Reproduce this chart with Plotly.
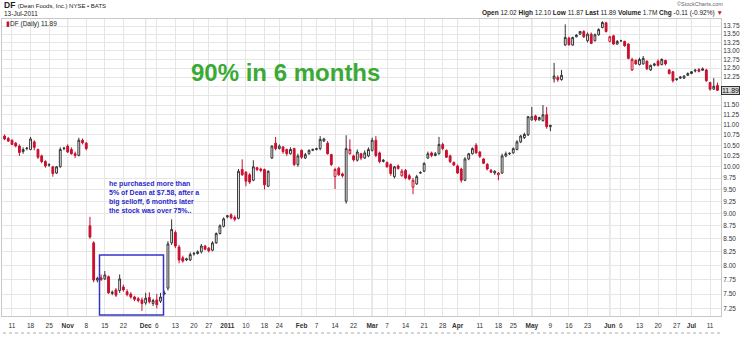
import numpy as np
import pandas as pd
import plotly.graph_objects as go

# ---------------- data ----------------
holidays = ["2010-11-25", "2010-12-24", "2011-01-17", "2011-02-21",
            "2011-04-22", "2011-05-30", "2011-07-04"]
dates = [d.strftime("%Y-%m-%d") for d in pd.bdate_range("2010-10-07", "2011-07-13")
         if d.strftime("%Y-%m-%d") not in holidays]

opens = [
    # Oct 7 - Nov 8
    10.72, 10.66, 10.62, 10.55, 10.48, 10.35, 10.42, 10.40, 10.58, 10.40, 10.25, 10.12,
    10.04, 10.00, 9.86, 10.00, 10.42, 10.48, 10.40, 10.30, 10.26, 10.62, 10.55,
    # Nov 9 - Jan 6
    8.75, 8.42, 7.74, 7.78, 7.76, 7.80, 7.51, 7.57, 7.56, 7.62, 7.54, 7.50, 7.45, 7.42,
    7.40, 7.35, 7.44, 7.34, 7.40, 7.38, 7.50, 7.60, 8.42, 8.62, 8.34, 8.14, 8.10, 8.10,
    8.21, 8.22, 8.25, 8.36, 8.32, 8.28, 8.42, 8.60, 8.74, 8.93, 8.97, 8.92, 8.90,
    # Jan 7 - Feb 17
    9.94, 9.88, 9.82, 9.70, 9.98, 9.95, 9.94, 9.57, 10.20, 10.55, 10.42, 10.46, 10.40,
    10.30, 10.42, 10.05, 10.38, 10.20, 10.30, 10.38, 10.40, 10.42, 10.60, 10.55, 10.28,
    9.78, 9.97, 9.84, 9.25,
    # Feb 18 - Apr 1
    10.30, 10.25, 10.15, 10.30, 10.20, 10.25, 10.38, 10.62, 10.32, 10.12, 10.10, 10.05,
    9.78, 10.02, 9.80, 9.92, 9.80, 9.55, 9.62, 9.86, 9.90, 10.20, 10.32, 10.26, 10.30,
    10.52, 10.38, 10.25, 10.10, 10.02, 9.95,
    # Apr 4 - May 9
    9.70, 10.18, 10.30, 10.50, 10.34, 10.18, 10.06, 9.92, 9.86, 9.82, 9.86, 10.25, 10.30,
    10.32, 10.40, 10.58, 10.68, 10.75, 11.12, 11.22, 11.12, 11.10, 11.25, 10.95,
    # May 10 - May 12
    12.20, 12.24, 12.18,
    # May 13 - Jun 23
    13.17, 13.38, 13.17, 13.42, 13.50, 13.58, 13.30, 13.50, 13.30, 13.48, 13.70, 13.85,
    13.28, 13.45, 13.20, 13.30, 13.28, 13.20, 12.45, 12.72, 12.60, 12.62, 12.70, 12.45,
    12.58, 12.70, 12.60, 12.72, 12.45,
    # Jun 24 - Jul 13
    12.40, 12.18, 12.22, 12.22, 12.30, 12.35, 12.42, 12.46, 12.44, 12.45, 12.10, 11.92, 12.02,
]
highs = [
    10.76, 10.70, 10.64, 10.58, 10.52, 10.45, 10.46, 10.70, 10.62, 10.42, 10.28, 10.15,
    10.08, 10.02, 10.02, 10.45, 10.46, 10.52, 10.45, 10.35, 10.68, 10.66, 10.58,
    8.93, 8.45, 7.80, 7.84, 7.90, 7.82, 7.56, 7.60, 7.84, 7.66, 7.58, 7.53, 7.47, 7.45,
    7.44, 7.52, 7.53, 7.42, 7.50, 7.52, 7.56, 8.45, 8.88, 8.66, 8.38, 8.18, 8.14, 8.24,
    8.25, 8.28, 8.40, 8.38, 8.34, 8.45, 8.62, 8.78, 8.92, 8.97, 9.00, 8.96, 9.95,
    10.17, 9.90, 9.86, 10.15, 10.00, 9.98, 9.96, 9.92, 10.50, 10.70, 10.52, 10.48, 10.42,
    10.45, 10.44, 10.30, 10.40, 10.32, 10.40, 10.42, 10.44, 10.72, 10.68, 10.60, 10.30,
    9.98, 10.00, 9.87, 10.74,
    10.64, 10.28, 10.40, 10.32, 10.38, 10.45, 10.68, 10.72, 10.35, 10.18, 10.12, 10.08,
    10.02, 10.05, 9.95, 9.95, 9.84, 9.75, 9.82, 9.90, 10.10, 10.35, 10.35, 10.34, 10.70,
    10.56, 10.40, 10.28, 10.12, 10.05, 9.98,
    10.22, 10.32, 10.45, 10.55, 10.36, 10.20, 10.08, 9.95, 9.92, 9.88, 10.30, 10.35, 10.33,
    10.45, 10.62, 10.75, 10.80, 11.22, 11.45, 11.25, 11.20, 11.50, 11.45, 11.00,
    12.65, 12.30, 12.45,
    13.80, 13.42, 13.42, 13.50, 13.60, 13.62, 13.55, 13.55, 13.52, 13.68, 13.90, 13.88,
    13.45, 13.48, 13.32, 13.33, 13.30, 13.22, 12.80, 12.75, 12.80, 12.85, 12.72, 12.60,
    12.65, 12.75, 12.78, 12.74, 12.48,
    12.42, 12.22, 12.28, 12.30, 12.38, 12.42, 12.48, 12.50, 12.52, 12.48, 12.12, 12.22, 12.10,
]
lows = [
    10.62, 10.58, 10.50, 10.45, 10.25, 10.30, 10.38, 10.38, 10.38, 10.18, 10.08, 9.98,
    10.00, 9.78, 9.84, 9.98, 10.38, 10.32, 10.28, 10.20, 10.24, 10.52, 10.38,
    8.50, 7.70, 7.70, 7.72, 7.74, 7.50, 7.48, 7.45, 7.52, 7.54, 7.46, 7.42, 7.38, 7.36,
    7.22, 7.32, 7.34, 7.30, 7.26, 7.35, 7.48, 7.56, 8.38, 8.32, 8.04, 8.05, 8.08, 8.08,
    8.18, 8.20, 8.22, 8.28, 8.24, 8.26, 8.40, 8.58, 8.72, 8.90, 8.88, 8.84, 8.88,
    9.80, 9.57, 9.62, 9.68, 9.90, 9.88, 9.50, 9.55, 10.18, 10.38, 10.40, 10.30, 10.25,
    10.28, 10.02, 10.00, 10.18, 10.18, 10.28, 10.36, 10.38, 10.38, 10.58, 10.28, 10.02,
    9.51, 9.80, 9.76, 9.20,
    10.28, 10.12, 10.12, 10.15, 10.18, 10.22, 10.35, 10.22, 10.08, 10.10, 9.98, 9.80,
    9.74, 9.94, 9.78, 9.72, 9.70, 9.40, 9.60, 9.84, 9.88, 10.18, 10.22, 10.24, 10.28,
    10.38, 10.20, 10.08, 10.02, 9.84, 9.65,
    9.68, 10.15, 10.28, 10.30, 10.20, 10.06, 9.92, 9.86, 9.82, 9.70, 9.84, 10.22, 10.27,
    10.30, 10.38, 10.55, 10.65, 10.72, 11.10, 11.08, 11.10, 11.08, 10.90, 10.84,
    12.10, 12.12, 12.15,
    13.15, 13.15, 13.15, 13.40, 13.48, 13.38, 13.25, 13.20, 13.28, 13.45, 13.68, 13.55,
    13.25, 13.18, 13.18, 13.27, 13.12, 12.75, 12.42, 12.60, 12.58, 12.60, 12.45, 12.42,
    12.55, 12.55, 12.58, 12.58, 12.32,
    12.10, 12.15, 12.20, 12.20, 12.28, 12.33, 12.38, 12.38, 12.42, 12.12, 11.88, 11.90, 11.87,
]
closes = [
    10.65, 10.60, 10.52, 10.48, 10.33, 10.40, 10.43, 10.65, 10.45, 10.22, 10.12, 10.02,
    10.05, 9.85, 10.00, 10.40, 10.43, 10.34, 10.30, 10.26, 10.62, 10.56, 10.42,
    8.53, 7.74, 7.77, 7.75, 7.83, 7.52, 7.53, 7.48, 7.76, 7.57, 7.49, 7.45, 7.41, 7.39,
    7.34, 7.43, 7.37, 7.39, 7.32, 7.45, 7.52, 8.40, 8.68, 8.36, 8.10, 8.08, 8.12, 8.20,
    8.22, 8.25, 8.36, 8.30, 8.27, 8.42, 8.60, 8.75, 8.89, 8.95, 8.91, 8.88, 9.90,
    9.82, 9.68, 9.66, 10.00, 9.94, 9.92, 9.60, 9.90, 10.48, 10.42, 10.48, 10.35, 10.30,
    10.40, 10.05, 10.25, 10.22, 10.28, 10.38, 10.40, 10.42, 10.64, 10.65, 10.30, 10.05,
    9.94, 9.82, 9.80, 10.42,
    10.40, 10.16, 10.34, 10.20, 10.32, 10.40, 10.62, 10.26, 10.12, 10.15, 10.00, 9.85,
    10.00, 9.96, 9.90, 9.75, 9.73, 9.70, 9.78, 9.87, 10.08, 10.30, 10.26, 10.30, 10.52,
    10.42, 10.22, 10.12, 10.04, 9.86, 9.70,
    10.18, 10.30, 10.42, 10.32, 10.24, 10.08, 9.95, 9.88, 9.90, 9.86, 10.25, 10.30, 10.31,
    10.42, 10.58, 10.72, 10.76, 11.20, 11.20, 11.12, 11.18, 11.25, 10.95, 10.98,
    12.28, 12.18, 12.30,
    13.40, 13.18, 13.40, 13.47, 13.58, 13.42, 13.50, 13.22, 13.48, 13.64, 13.86, 13.58,
    13.42, 13.20, 13.28, 13.30, 13.15, 12.78, 12.75, 12.62, 12.75, 12.78, 12.48, 12.58,
    12.62, 12.58, 12.75, 12.62, 12.35,
    12.15, 12.20, 12.25, 12.28, 12.35, 12.40, 12.44, 12.41, 12.48, 12.15, 11.92, 12.00, 11.89,
]

tick_dates = ["2010-10-11", "2010-10-18", "2010-10-25", "2010-11-01", "2010-11-08",
              "2010-11-15", "2010-11-22", "2010-12-01", "2010-12-06", "2010-12-13",
              "2010-12-20", "2010-12-27", "2011-01-03", "2011-01-10", "2011-01-18",
              "2011-01-24", "2011-02-01", "2011-02-07", "2011-02-14", "2011-02-22",
              "2011-03-01", "2011-03-07", "2011-03-14", "2011-03-21", "2011-03-28",
              "2011-04-01", "2011-04-11", "2011-04-18", "2011-04-25", "2011-05-02",
              "2011-05-09", "2011-05-16", "2011-05-23", "2011-06-01", "2011-06-06",
              "2011-06-13", "2011-06-20", "2011-06-27", "2011-07-01", "2011-07-11"]
tick_labels = ["11", "18", "25", "<b>Nov</b>", "8", "15", "22", "<b>Dec</b>", "6", "13",
               "20", "27", "<b>2011</b>", "10", "18", "24", "<b>Feb</b>", "7", "14", "22",
               "<b>Mar</b>", "7", "14", "21", "28", "<b>Apr</b>", "11", "18", "25", "<b>May</b>",
               "9", "16", "23", "<b>Jun</b>", "6", "13", "20", "27", "<b>Jul</b>", "11"]
price_ticks = [7.25, 7.50, 7.75, 8.00, 8.25, 8.50, 8.75, 9.00, 9.25, 9.50, 9.75, 10.00,
               10.25, 10.50, 10.75, 11.00, 11.25, 11.50, 11.75, 12.00, 12.25, 12.50,
               12.75, 13.00, 13.25, 13.50, 13.75]

assert len(dates) == len(opens) == len(highs) == len(lows) == len(closes)

# ---------------- styling ----------------
W, H = 750, 355
L, R, T, B = 2, 29, 19, 39
PW, PH = W - L - R, H - T - B
FONT = "Liberation Sans, Arial, sans-serif"
RED = "#c8102e"
BLK = "#333333"


def px(xp):
    return (xp - L) / PW


def py(yp):
    return (H - B - yp) / PH


# StockCharts colouring: red if close below previous close, filled if close below open
prev = [opens[0]] + closes[:-1]
up_idx = [i for i in range(len(dates)) if closes[i] >= prev[i]]
dn_idx = [i for i in range(len(dates)) if closes[i] < prev[i]]


def candle(idx, color):
    return go.Candlestick(
        x=[dates[i] for i in idx],
        open=[opens[i] for i in idx], high=[highs[i] for i in idx],
        low=[lows[i] for i in idx], close=[closes[i] for i in idx],
        increasing=dict(line=dict(color=color, width=1), fillcolor="white"),
        decreasing=dict(line=dict(color=color, width=1), fillcolor=color),
        whiskerwidth=0, hoverinfo="skip", showlegend=False)


fig = go.Figure([candle(up_idx, BLK), candle(dn_idx, RED)])

month_ticks = [d for d, t in zip(tick_dates, tick_labels) if t.startswith("<b>")]
shapes = []
for d in month_ticks:
    k = dates.index(d)
    shapes.append(dict(type="line", xref="x", yref="paper", x0=k, x1=k, y0=0, y1=1,
                       line=dict(color="#c4c4c4", width=1), layer="below"))
# highlight box around the accumulation zone
shapes.append(dict(type="rect", xref="paper", yref="paper",
                   x0=px(99.5), x1=px(163.5), y0=py(315), y1=py(255),
                   line=dict(color="#3535c8", width=1.5), fillcolor="rgba(0,0,0,0)"))
# dotted separator under the date axis
shapes.append(dict(type="line", xref="paper", yref="paper", x0=px(3), x1=px(722),
                   y0=py(333), y1=py(333), line=dict(color="#aaaaaa", width=1, dash="dot")))

last, prev_close = closes[-1], closes[-2]
chg = last - prev_close
stats = ("<b>Open</b> %.2f <b>High</b> %.2f <b>Low</b> %.2f <b>Last</b> %.2f "
         "<b>Volume</b> 1.7M <b>Chg</b> %.2f (%.2f%%) <span style='color:%s'>▼</span>"
         % (opens[-1], highs[-1], lows[-1], last, chg, chg / prev_close * 100, RED))

# the last-price tag covers the neighbouring axis labels, as in the original
hidden = [v for v in price_ticks if abs(np.log10(v) - np.log10(last)) < 0.006]
ytext = ["" if v in hidden else "%.2f" % v for v in price_ticks]

annotations = [
    dict(x=px(2), y=py(5), xref="paper", yref="paper", xanchor="left", yanchor="middle",
         text="<b>DF</b> <span style='font-size:6px'>(Dean Foods, Inc.) NYSE • BATS</span>",
         showarrow=False, font=dict(family=FONT, size=8.5, color="#222")),
    dict(x=px(2), y=py(13), xref="paper", yref="paper", xanchor="left", yanchor="middle",
         text="13-Jul-2011", showarrow=False, font=dict(family=FONT, size=6.5, color="#222")),
    dict(x=px(4), y=py(24), xref="paper", yref="paper", xanchor="left", yanchor="middle",
         text="<span style='color:%s'>▮</span>DF (Daily) %.2f" % (RED, last), showarrow=False,
         font=dict(family=FONT, size=6.5, color="#222")),
    dict(x=px(725), y=py(4), xref="paper", yref="paper", xanchor="right", yanchor="middle",
         text="©StockCharts.com", showarrow=False, font=dict(family=FONT, size=5.5, color="#666")),
    dict(x=px(725), y=py(13), xref="paper", yref="paper", xanchor="right", yanchor="middle",
         text=stats, showarrow=False, font=dict(family=FONT, size=6.5, color="#222")),
    dict(x=px(285), y=py(72), xref="paper", yref="paper", xanchor="center", yanchor="middle",
         text="<b>90% in 6 months</b>", showarrow=False,
         font=dict(family=FONT, size=24, color="#3aaa35")),
    dict(x=px(107), y=py(197), xref="paper", yref="paper", xanchor="left", yanchor="middle",
         align="left",
         text=("<b>he purchased more than<br>5% of Dean at $7.58, after a<br>"
               "big selloff, 6 months later<br>the stock was over 75%..</b>"),
         showarrow=False, font=dict(family=FONT, size=7, color="#2a2acc")),
    dict(x=1.0, y=np.log10(last), xref="paper", yref="y", xanchor="left", yanchor="middle",
         text="%.2f" % last, showarrow=False, bgcolor="#d9d9d9", bordercolor="#333",
         borderwidth=1, borderpad=0, font=dict(family=FONT, size=7, color="#111")),
]

fig.update_layout(
    width=W, height=H, margin=dict(l=L, r=R, t=T, b=B, pad=0),
    paper_bgcolor="white", plot_bgcolor="white",
    boxgap=0.3, shapes=shapes, annotations=annotations,
    font=dict(family=FONT, size=7, color="#333"),
    xaxis=dict(type="category", categoryorder="array", categoryarray=dates,
               range=[-0.69, 192.95], tickmode="array", tickvals=tick_dates,
               ticktext=tick_labels, tickfont=dict(family=FONT, size=6.5, color="#333"),
               showgrid=True, gridcolor="#e6e6e6", gridwidth=1, ticks="",
               ticklabelstandoff=3,
               showline=True, linecolor="#c8c8c8", mirror=True, zeroline=False,
               rangeslider=dict(visible=False), fixedrange=True),
    yaxis=dict(type="log", side="right",
               range=[np.log10(7.136), np.log10(13.97)],
               tickmode="array", tickvals=price_ticks, ticktext=ytext,
               tickfont=dict(family=FONT, size=6.5, color="#333"),
               showgrid=True, gridcolor="#e6e6e6", gridwidth=1, ticks="",
               showline=True, linecolor="#c8c8c8", mirror=True, zeroline=False,
               fixedrange=True),
)

fig.write_html("out.html")
